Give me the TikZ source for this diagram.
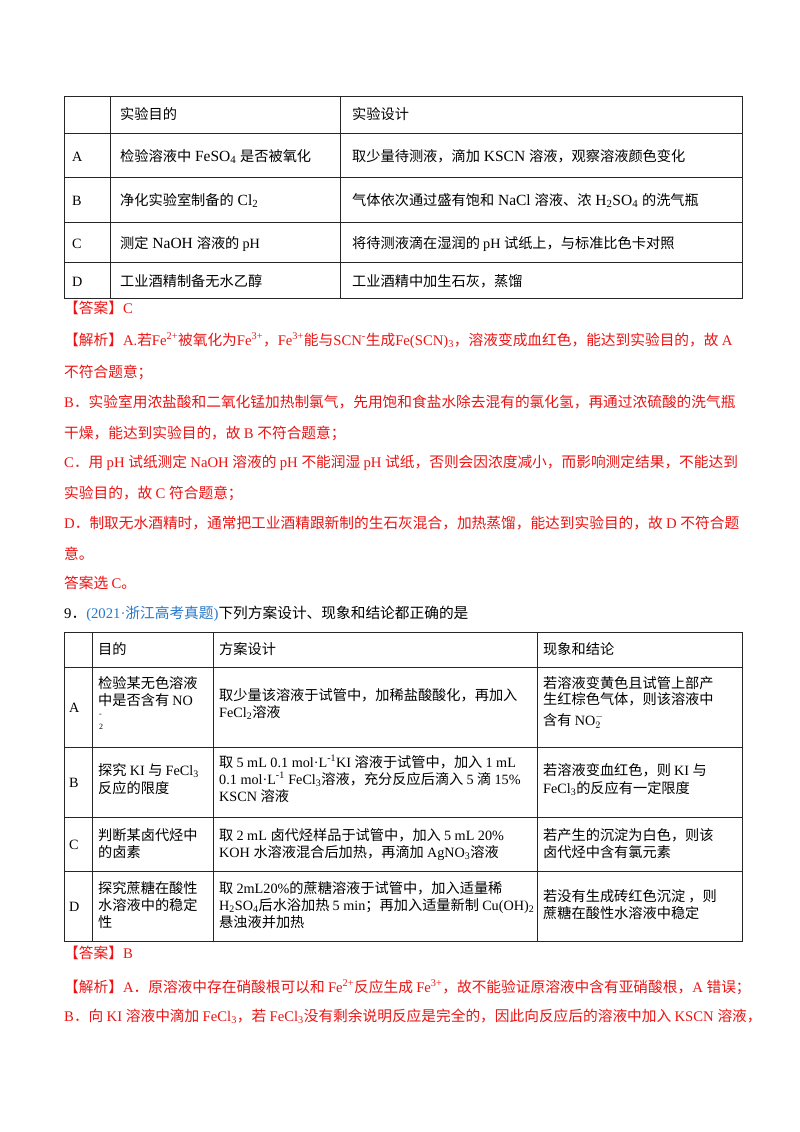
\documentclass[tikz,border=0pt]{standalone}
\usepackage{fontspec}
\setmainfont{Liberation Serif}
\newfontfamily\cjk{Noto Sans CJK SC}
\XeTeXinterchartokenstate=1
\newXeTeXintercharclass\cjkcls
\count255="3000 \loop \XeTeXcharclass\count255=\cjkcls \ifnum\count255<"303F \advance\count255 1 \repeat
\count255="4E00 \loop \XeTeXcharclass\count255=\cjkcls \ifnum\count255<"9FFF \advance\count255 1 \repeat
\count255="FF00 \loop \XeTeXcharclass\count255=\cjkcls \ifnum\count255<"FFEF \advance\count255 1 \repeat
\XeTeXinterchartoks 0 \cjkcls = {\cjk}
\XeTeXinterchartoks 4095 \cjkcls = {\cjk}
\XeTeXinterchartoks \cjkcls 0 = {\rmfamily}
\XeTeXinterchartoks 4095 0 = {\rmfamily}
\definecolor{ansred}{RGB}{235,20,20}
\definecolor{qblue}{RGB}{40,120,200}
\newcommand{\sub}[1]{\textsubscript{#1}}
\newcommand{\sups}[1]{\textsuperscript{#1}}
\newcommand{\bigf}[1]{{\rmfamily\fontsize{15.5}{16}\selectfont #1}}
\begin{document}
\begin{tikzpicture}[x=1pt,y=-1pt,
  tx/.style={anchor=base west,inner sep=0pt,font=\fontsize{14.2}{16}\selectfont},
  rt/.style={anchor=base west,inner sep=0pt,font=\fontsize{14.7}{16}\selectfont,text=ansred},
  grid/.style={line width=0.9pt,draw=black!85}]
\useasboundingbox[fill=white] (0,0) rectangle (800,1132);
% ---------- Table 1 ----------
\draw[grid] (64,96) rectangle (742,298);
\foreach \y in {133,177,222,262} \draw[grid] (64,\y) -- (742,\y);
\foreach \x in {110,340} \draw[grid] (\x,96) -- (\x,298);
\node[tx] (h1) at (120,119) {实验目的};
\node[tx] (h2) at (352,119) {实验设计};
\node[tx] (ra) at (72,161) {A};
\node[tx] (rb) at (72,205) {B};
\node[tx] (rc) at (72,248) {C};
\node[tx] (rd) at (72,286) {D};
\node[tx] (a1) at (120,161) {检验溶液中\bigf{ FeSO\sub{4} }是否被氧化};
\node[tx] (a2) at (352,161) {取少量待测液，滴加\bigf{ KSCN }溶液，观察溶液颜色变化};
\node[tx] (b1) at (120,205) {净化实验室制备的\bigf{ Cl\sub{2}}};
\node[tx] (b2) at (352,205) {气体依次通过盛有饱和\bigf{ NaCl }溶液、浓\bigf{ H\sub{2}SO\sub{4} }的洗气瓶};
\node[tx] (c1) at (120,248) {测定\bigf{ NaOH }溶液的 pH};
\node[tx] (c2) at (352,248) {将待测液滴在湿润的 pH 试纸上，与标准比色卡对照};
\node[tx] (d1) at (120,286) {工业酒精制备无水乙醇};
\node[tx] (d2) at (352,286) {工业酒精中加生石灰，蒸馏};
% ---------- Answer 1 ----------
\node[rt] (ans1) at (64,313) {【答案】C};
\node[rt] (j1) at (64,345) {【解析】A.若Fe\sups{2+}被氧化为Fe\sups{3+}，Fe\sups{3+}能与SCN\sups{-}生成Fe(SCN)\sub{3}，溶液变成血红色，能达到实验目的，故 A};
\node[rt] (j2) at (64,377) {不符合题意；};
\node[rt] (j3) at (64,407) {B．实验室用浓盐酸和二氧化锰加热制氯气，先用饱和食盐水除去混有的氯化氢，再通过浓硫酸的洗气瓶};
\node[rt] (j4) at (64,438) {干燥，能达到实验目的，故 B 不符合题意；};
\node[rt] (j5) at (64,467) {C．用 pH 试纸测定 NaOH 溶液的 pH 不能润湿 pH 试纸，否则会因浓度减小，而影响测定结果，不能达到};
\node[rt] (j6) at (64,498) {实验目的，故 C 符合题意；};
\node[rt] (j7) at (64,528) {D．制取无水酒精时，通常把工业酒精跟新制的生石灰混合，加热蒸馏，能达到实验目的，故 D 不符合题};
\node[rt] (j8) at (64,559) {意。};
\node[rt] (j9) at (64,588) {答案选 C。};
% ---------- Question 9 ----------
\node[rt,text=black] (q9) at (64,618) {9．\textcolor{qblue}{(2021·浙江高考真题)}下列方案设计、现象和结论都正确的是};
\draw[grid] (64,632) rectangle (742,941);
\foreach \y in {667,747,817,871} \draw[grid] (64,\y) -- (742,\y);
\foreach \x in {92,213,537} \draw[grid] (\x,632) -- (\x,941);
\node[tx] (g1) at (98,654) {目的};
\node[tx] (g2) at (219,654) {方案设计};
\node[tx] (g3) at (543,654) {现象和结论};
\node[tx] (la) at (69,712) {A};
\node[tx] (lb) at (69,787) {B};
\node[tx] (lc) at (69,849) {C};
\node[tx] (ld) at (69,911) {D};
% row A
\node[tx] (pa1) at (98,688) {检验某无色溶液};
\node[tx] (pa2) at (98,705) {中是否含有 NO};
\node[tx,font=\fontsize{8}{9}\selectfont] (pa3) at (99,716) {-};
\node[tx,font=\fontsize{8}{9}\selectfont] (pa4) at (99,729) {2};
\node[tx] (sa1) at (219,700) {取少量该溶液于试管中，加稀盐酸酸化，再加入};
\node[tx] (sa2) at (219,717) {FeCl\sub{2}溶液};
\node[tx] (ca1) at (543,688) {若溶液变黄色且试管上部产};
\node[tx] (ca2) at (543,704) {生红棕色气体，则该溶液中};
\node[tx] (ca3) at (543,725) {含有 NO$_2^-$};
% row B
\node[tx] (pb1) at (98,775) {探究 KI 与 FeCl\sub{3}};
\node[tx] (pb2) at (98,793) {反应的限度};
\node[tx] (sb1) at (219,767) {取 5 mL 0.1 mol·L\sups{-1}KI 溶液于试管中，加入 1 mL};
\node[tx] (sb2) at (219,784) {0.1 mol·L\sups{-1} FeCl\sub{3}溶液，充分反应后滴入 5 滴 15\%};
\node[tx] (sb3) at (219,801) {KSCN 溶液};
\node[tx] (cb1) at (543,775) {若溶液变血红色，则 KI 与};
\node[tx] (cb2) at (543,793) {FeCl\sub{3}的反应有一定限度};
% row C
\node[tx] (pc1) at (98,840) {判断某卤代烃中};
\node[tx] (pc2) at (98,857) {的卤素};
\node[tx] (sc1) at (219,840) {取 2 mL 卤代烃样品于试管中，加入 5 mL 20\%};
\node[tx] (sc2) at (219,857) {KOH 水溶液混合后加热，再滴加 AgNO\sub{3}溶液};
\node[tx] (cc1) at (543,840) {若产生的沉淀为白色，则该};
\node[tx] (cc2) at (543,857) {卤代烃中含有氯元素};
% row D
\node[tx] (pd1) at (98,893) {探究蔗糖在酸性};
\node[tx] (pd2) at (98,910) {水溶液中的稳定};
\node[tx] (pd3) at (98,927) {性};
\node[tx] (sd1) at (219,893) {取 2mL20\%的蔗糖溶液于试管中，加入适量稀};
\node[tx] (sd2) at (219,910) {H\sub{2}SO\sub{4}后水浴加热 5 min；再加入适量新制 Cu(OH)\sub{2}};
\node[tx] (sd3) at (219,927) {悬浊液并加热};
\node[tx] (cd1) at (543,901) {若没有生成砖红色沉淀 ，则};
\node[tx] (cd2) at (543,918) {蔗糖在酸性水溶液中稳定};
% ---------- Answer 2 ----------
\node[rt] (ans2) at (64,958) {【答案】B};
\node[rt] (k1) at (64,992) {【解析】A．原溶液中存在硝酸根可以和 Fe\sups{2+}反应生成 Fe\sups{3+}，故不能验证原溶液中含有亚硝酸根，A 错误；};
\node[rt] (k2) at (64,1021) {B．向 KI 溶液中滴加 FeCl\sub{3}，若 FeCl\sub{3}没有剩余说明反应是完全的，因此向反应后的溶液中加入 KSCN 溶液，};
\end{tikzpicture}
\end{document}
